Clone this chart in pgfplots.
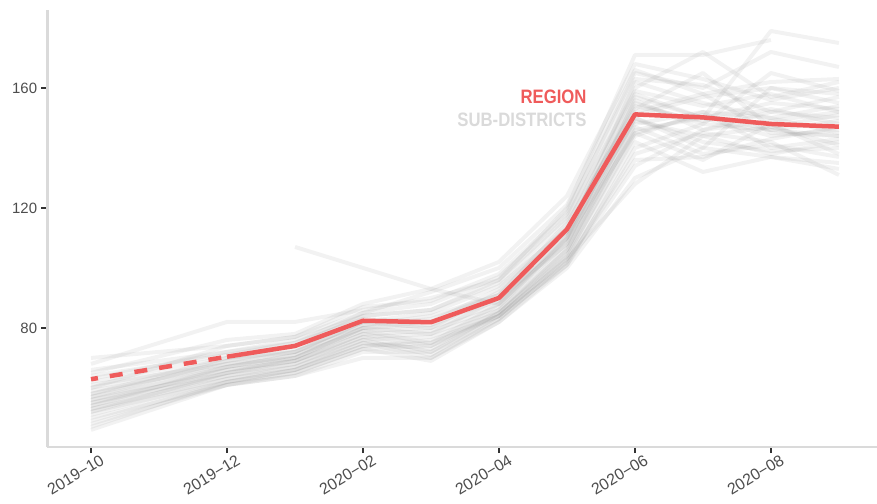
\documentclass[border=0pt]{standalone}
\usepackage{fontspec}
\setmainfont{Liberation Sans}
\usepackage{pgfplots}
\usepackage{pgfplotstable}
\pgfplotsset{compat=1.18}
\usetikzlibrary{calc}
\definecolor{regred}{HTML}{EF5B5B}
\definecolor{subgray}{HTML}{DADADA}
\definecolor{ticktxt}{HTML}{4D4D4D}

% sub-district series, one column each; month index 0 = 2019-10 (2019-11 missing)
\pgfplotstableread{
m  s1  s2  s3  s4  s5  s6  s7  s8  s9  s10 s11 s12 s13 s14 s15 s16 s17 s18 s19 s20 s21 s22 s23 s24 s25 s26 s27 s28 s29 s30 s31 s32
0  70  68  66  64  62  61  60  59  58  57  56  56  55  55  54  53  53  52  51  50  49  48  47  46  63  65  58  60  57  nan 54  52
2  74  82  72  71  70  68  69  67  68  66  67  65  66  64  65  63  64  62  63  61  62  61  62  61  72  76  70  74  69  nan 67  65
3  77  82  76  75  72  72  73  71  70  69  70  68  69  67  69  66  68  66  67  65  66  64  65  64  75  78  74  77  72  107 71  70
4  85  86  84  83  82  80  81  79  80  78  79  77  78  76  77  75  76  74  75  73  74  72  73  70  85  88  84  87  82  100 81  80
5  88  90  86  82  80  78  84  75  82  74  80  72  79  71  78  70  77  76  73  69  75  72  74  70  92  93  86  89  85  93  83  81
6  97  96  95  93  92  90  91  88  89  86  88  85  87  84  86  83  85  84  85  82  84  83  84  82  100 102 96  98  94  88  91  90
7  118 120 116 114 112 110 115 109 111 106 108 104 110 103 107 102 106 101 105 100 104 102 103 101 121 124 117 119 113 110 112 108
8  165 171 160 158 155 162 153 150 157 148 156 145 152 142 146 138 150 140 147 130 144 136 128 134 166 168 159 163 154 145 149 151
9  160 171 172 150 148 155 165 140 150 152 146 136 158 132 150 145 142 148 138 140 152 137 144 146 158 163 154 161 149 151 144 157
10 172 176 157 179 165 150 147 160 144 140 152 148 145 137 155 142 139 146 141 137 150 143 138 149 162 156 158 152 153 146 147 160
11 167 nan 162 175 159 154 151 158 146 143 150 138 144 135 153 131 140 149 137 133 145 147 142 152 163 160 152 157 148 144 141 155
}\subdata

\begin{document}
\begin{tikzpicture}
\begin{axis}[name=ax, scale only axis, width=829.7bp, height=437bp,
  xmin=-0.643, xmax=11.56, ymin=40.3, ymax=186,
  axis x line*=bottom, axis y line*=left,
  axis line style={draw=subgray, line width=2.5bp, -},
  xtick={0,2,4,6,8,10},
  xticklabels={2019−10,2019−12,2020−02,2020−04,2020−06,2020−08},
  ytick={80,120,160},
  tick align=outside, major tick length=6bp,
  tick style={draw=black!80, line width=1.3bp},
  tick label style={font=\fontsize{15}{15}\selectfont, text=ticktxt},
  /pgf/number format/assume math mode=true,
  x tick label style={font=\fontsize{16}{16}\selectfont, rotate=31, anchor=north east, inner sep=2bp, xshift=9bp, yshift=-3bp},
  y tick label style={inner sep=4bp},
  clip=false, unbounded coords=jump]
\pgfplotsinvokeforeach{1,...,32}{
  \addplot[black!50, opacity=0.1, line width=4bp, line join=round] table[x=m, y=s#1] {\subdata};
}
\addplot[regred, line width=4.5bp, dash pattern=on 13bp off 12bp, dash phase=6bp] coordinates {(0,62.9) (2,70.4)};
\addplot[regred, line width=4.5bp, line join=round] coordinates {(2,70.4) (3,74) (4,82.4) (5,81.9) (6,90) (7,112.9) (8,151.2) (9,150.2) (10,148) (11,147.1)};
\node[anchor=base east, inner sep=0pt, text=regred] at (axis cs:7.29,154.7)
  {\scalebox{0.86}[1]{\fontsize{19.5}{20}\selectfont\bfseries REGION}};
\node[anchor=base east, inner sep=0pt, text=subgray] at (axis cs:7.29,147.1)
  {\scalebox{0.86}[1]{\fontsize{19.5}{20}\selectfont\bfseries SUB-DISTRICTS}};
\end{axis}
\pgfresetboundingbox
\useasboundingbox ($(ax.south west)+(-47.3bp,-57bp)$) rectangle ($(ax.north east)+(0bp,10bp)$);
\end{tikzpicture}
\end{document}
